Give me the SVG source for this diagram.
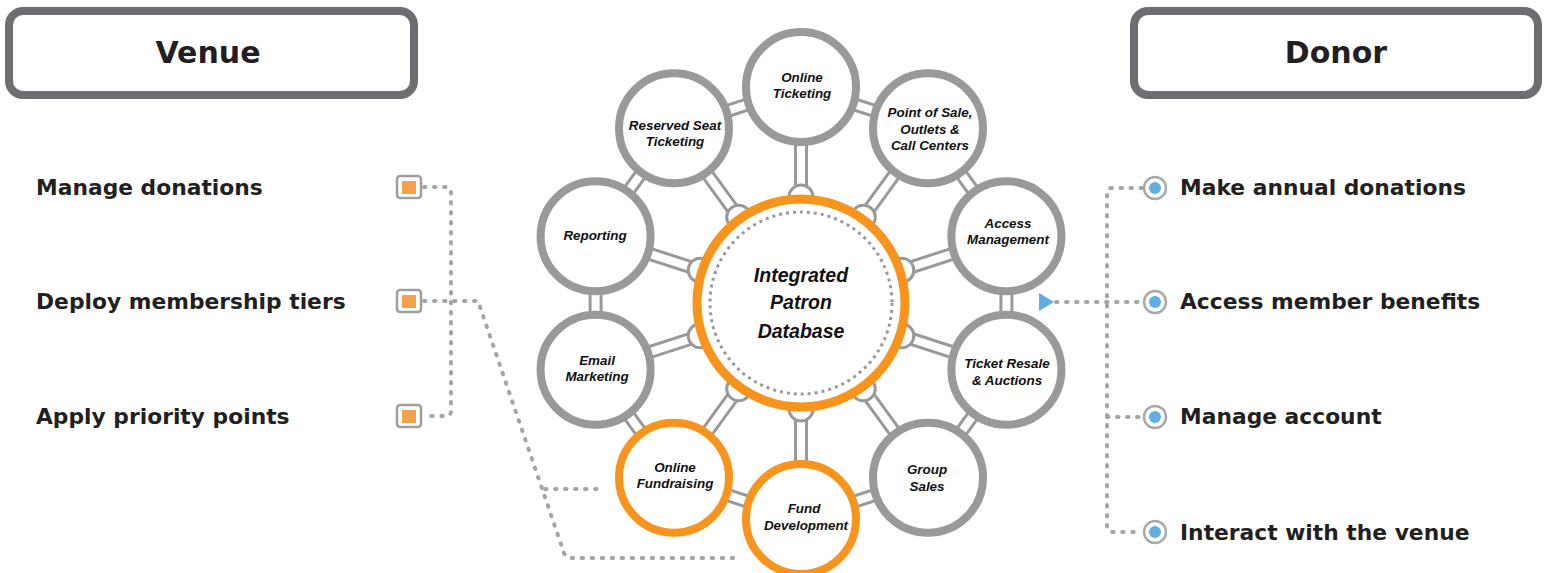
<svg xmlns="http://www.w3.org/2000/svg" width="1546" height="573" viewBox="0 0 1546 573">
<style>
.hdr{fill:#fff;stroke:#6d6e71;stroke-width:8}
.ht{font-family:"DejaVu Sans",Verdana,sans-serif;font-weight:bold;font-size:30px;fill:#231f20;text-anchor:middle}
.it{font-family:"DejaVu Sans",Verdana,sans-serif;font-weight:bold;font-size:21.8px;fill:#231f20}
.dot{fill:none;stroke:#a3a5a8;stroke-width:4;stroke-linecap:round;stroke-dasharray:1.5 8.5;stroke-linejoin:round}
.sg{stroke:#999;stroke-width:14}
.sw{stroke:#fff;stroke-width:8}
.knob{fill:#fff;stroke:#999;stroke-width:3}
.oc{fill:#fff;stroke:#999;stroke-width:8}
.oo{fill:#fff;stroke:#f7941d;stroke-width:8}
.ct{font-family:"Liberation Sans",Arial,sans-serif;font-weight:bold;font-style:italic;font-size:13.4px;fill:#111;text-anchor:middle}
.bt{font-family:"Liberation Sans",Arial,sans-serif;font-weight:bold;font-style:italic;font-size:19.5px;fill:#111;text-anchor:middle}
.sq{fill:#fff;stroke:#9d9fa2;stroke-width:2.5}
.sqi{fill:#f5a04a}
.rc{fill:#fff;stroke:#a7a9ac;stroke-width:2.5}
.rci{fill:#62ade0}
</style>

<g id="venue-header">
<rect class="hdr" x="9" y="11" width="405" height="84" rx="14"/>
<text class="ht" x="208" y="63">Venue</text>
</g>
<g id="donor-header">
<rect class="hdr" x="1134" y="11" width="404" height="84" rx="14"/>
<text class="ht" x="1336" y="63">Donor</text>
</g>

<g id="connectors">
<path class="dot" d="M424,187 H446 Q451,187 451,192 V411 Q451,416 446,416 H424"/>
<path class="dot" d="M424,301 H478 L564,553 Q566,558 571,558 H735"/>
<path class="dot" d="M545,489 H598"/>
<path class="dot" d="M1142,188 H1112 Q1107,188 1107,193 V527 Q1107,532 1112,532 H1142"/>
<path class="dot" d="M1056,302 H1142"/>
<path class="dot" d="M1107,417 H1142"/>
<polygon points="1039,293 1039,311 1054,302" fill="#5dade2"/>

<g class="sg">
<line x1="801" y1="87" x2="928" y2="128.3"/>
<line x1="928" y1="128.3" x2="1006.4" y2="236.3"/>
<line x1="1006.4" y1="236.3" x2="1006.4" y2="369.7"/>
<line x1="1006.4" y1="369.7" x2="928" y2="477.7"/>
<line x1="928" y1="477.7" x2="801" y2="519"/>
<line x1="801" y1="519" x2="674" y2="477.7"/>
<line x1="674" y1="477.7" x2="595.6" y2="369.7"/>
<line x1="595.6" y1="369.7" x2="595.6" y2="236.3"/>
<line x1="595.6" y1="236.3" x2="674" y2="128.3"/>
<line x1="674" y1="128.3" x2="801" y2="87"/>
<line x1="801" y1="303" x2="801" y2="87"/>
<line x1="801" y1="303" x2="928" y2="128.3"/>
<line x1="801" y1="303" x2="1006.4" y2="236.3"/>
<line x1="801" y1="303" x2="1006.4" y2="369.7"/>
<line x1="801" y1="303" x2="928" y2="477.7"/>
<line x1="801" y1="303" x2="801" y2="519"/>
<line x1="801" y1="303" x2="674" y2="477.7"/>
<line x1="801" y1="303" x2="595.6" y2="369.7"/>
<line x1="801" y1="303" x2="595.6" y2="236.3"/>
<line x1="801" y1="303" x2="674" y2="128.3"/>
</g>
<g class="sw">
<line x1="801" y1="87" x2="928" y2="128.3"/>
<line x1="928" y1="128.3" x2="1006.4" y2="236.3"/>
<line x1="1006.4" y1="236.3" x2="1006.4" y2="369.7"/>
<line x1="1006.4" y1="369.7" x2="928" y2="477.7"/>
<line x1="928" y1="477.7" x2="801" y2="519"/>
<line x1="801" y1="519" x2="674" y2="477.7"/>
<line x1="674" y1="477.7" x2="595.6" y2="369.7"/>
<line x1="595.6" y1="369.7" x2="595.6" y2="236.3"/>
<line x1="595.6" y1="236.3" x2="674" y2="128.3"/>
<line x1="674" y1="128.3" x2="801" y2="87"/>
<line x1="801" y1="303" x2="801" y2="87"/>
<line x1="801" y1="303" x2="928" y2="128.3"/>
<line x1="801" y1="303" x2="1006.4" y2="236.3"/>
<line x1="801" y1="303" x2="1006.4" y2="369.7"/>
<line x1="801" y1="303" x2="928" y2="477.7"/>
<line x1="801" y1="303" x2="801" y2="519"/>
<line x1="801" y1="303" x2="674" y2="477.7"/>
<line x1="801" y1="303" x2="595.6" y2="369.7"/>
<line x1="801" y1="303" x2="595.6" y2="236.3"/>
<line x1="801" y1="303" x2="674" y2="128.3"/>
</g>
<circle class="knob" cx="801" cy="197" r="12"/>
<circle class="knob" cx="863.3" cy="217.2" r="12"/>
<circle class="knob" cx="901.8" cy="270.2" r="12"/>
<circle class="knob" cx="901.8" cy="335.8" r="12"/>
<circle class="knob" cx="863.3" cy="388.8" r="12"/>
<circle class="knob" cx="801" cy="409" r="12"/>
<circle class="knob" cx="738.7" cy="388.8" r="12"/>
<circle class="knob" cx="700.2" cy="335.8" r="12"/>
<circle class="knob" cx="700.2" cy="270.2" r="12"/>
<circle class="knob" cx="738.7" cy="217.2" r="12"/>
</g>

<g id="venue-items">
<text class="it" x="36" y="195">Manage donations</text>
<rect class="sq" x="397" y="176" width="24" height="22" rx="3"/>
<rect class="sqi" x="402" y="181" width="14" height="13"/>
<text class="it" x="36" y="309">Deploy membership tiers</text>
<rect class="sq" x="397" y="290" width="24" height="22" rx="3"/>
<rect class="sqi" x="402" y="295" width="14" height="13"/>
<text class="it" x="36" y="424">Apply priority points</text>
<rect class="sq" x="397" y="405" width="24" height="22" rx="3"/>
<rect class="sqi" x="402" y="410" width="14" height="13"/>
</g>

<g id="donor-items">
<circle class="rc" cx="1155" cy="188" r="11"/><circle class="rci" cx="1155" cy="188" r="6"/>
<text class="it" x="1180" y="195">Make annual donations</text>
<circle class="rc" cx="1155" cy="302" r="11"/><circle class="rci" cx="1155" cy="302" r="6"/>
<text class="it" x="1180" y="309">Access member benefits</text>
<circle class="rc" cx="1155" cy="417" r="11"/><circle class="rci" cx="1155" cy="417" r="6"/>
<text class="it" x="1180" y="424">Manage account</text>
<circle class="rc" cx="1155" cy="532" r="11"/><circle class="rci" cx="1155" cy="532" r="6"/>
<text class="it" x="1180" y="540">Interact with the venue</text>
</g>

<g id="online-ticketing">
<circle class="oc" cx="801" cy="87" r="55"/>
<text class="ct" x="802" y="82">Online</text>
<text class="ct" x="802" y="98">Ticketing</text>
</g>
<g id="point-of-sale">
<circle class="oc" cx="928" cy="128.3" r="55"/>
<text class="ct" x="930" y="117">Point of Sale,</text>
<text class="ct" x="930" y="133.5">Outlets &amp;</text>
<text class="ct" x="930" y="150">Call Centers</text>
</g>
<g id="access-management">
<circle class="oc" cx="1006.4" cy="236.3" r="55"/>
<text class="ct" x="1008" y="228">Access</text>
<text class="ct" x="1008" y="244">Management</text>
</g>
<g id="ticket-resale">
<circle class="oc" cx="1006.4" cy="369.7" r="55"/>
<text class="ct" x="1007" y="368">Ticket Resale</text>
<text class="ct" x="1007" y="385">&amp; Auctions</text>
</g>
<g id="group-sales">
<circle class="oc" cx="928" cy="477.7" r="55"/>
<text class="ct" x="927" y="474">Group</text>
<text class="ct" x="927" y="491">Sales</text>
</g>
<g id="fund-development">
<circle class="oo" cx="801" cy="519" r="55"/>
<text class="ct" x="804" y="513">Fund</text>
<text class="ct" x="806" y="530">Development</text>
</g>
<g id="online-fundraising">
<circle class="oo" cx="674" cy="477.7" r="55"/>
<text class="ct" x="675" y="472">Online</text>
<text class="ct" x="675" y="488">Fundraising</text>
</g>
<g id="email-marketing">
<circle class="oc" cx="595.6" cy="369.7" r="55"/>
<text class="ct" x="597" y="365">Email</text>
<text class="ct" x="597" y="381">Marketing</text>
</g>
<g id="reporting">
<circle class="oc" cx="595.6" cy="236.3" r="55"/>
<text class="ct" x="595" y="240">Reporting</text>
</g>
<g id="reserved-seat">
<circle class="oc" cx="674" cy="128.3" r="55"/>
<text class="ct" x="675" y="130">Reserved Seat</text>
<text class="ct" x="675" y="146">Ticketing</text>
</g>

<g id="integrated-patron-database">
<circle cx="801" cy="303" r="104" fill="#fff" stroke="#f7941d" stroke-width="9"/>
<circle cx="801" cy="303" r="91" fill="none" stroke="#999" stroke-width="3" stroke-dasharray="3 4"/>
<text class="bt" x="801" y="282">Integrated</text>
<text class="bt" x="801" y="309">Patron</text>
<text class="bt" x="801" y="338">Database</text>
</g>
</svg>
